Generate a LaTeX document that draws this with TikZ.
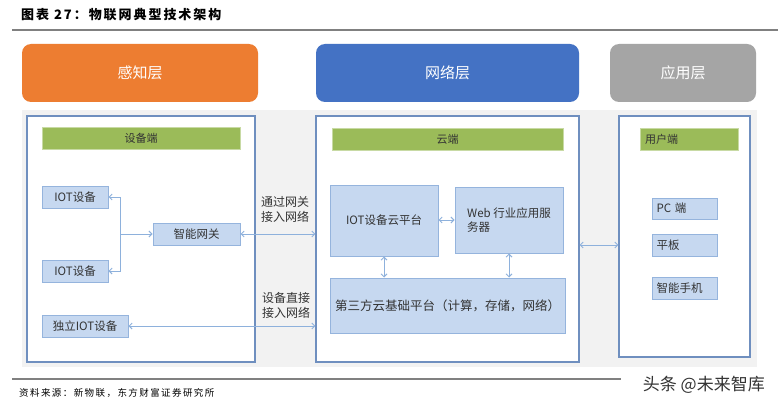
\documentclass[tikz,border=0pt]{standalone}
\usepackage{fontspec}
\setmainfont{Noto Sans CJK SC}
\newfontfamily\spacedfont{Noto Sans CJK SC}[LetterSpace=15]
\usetikzlibrary{arrows.meta,positioning,calc}
\definecolor{clSense}{HTML}{ED7D31}
\definecolor{clNet}{HTML}{4472C4}
\definecolor{clApp}{HTML}{A5A5A5}
\definecolor{clBack}{HTML}{F2F2F2}
\definecolor{clPanel}{HTML}{6F8FBF}
\definecolor{clBar}{HTML}{9BBB59}
\definecolor{clBox}{HTML}{C6D8F0}
\definecolor{clBoxLine}{HTML}{95B4DD}
\definecolor{clFlow}{HTML}{8EB1DC}
\definecolor{clText}{HTML}{333333}
\tikzset{
  layer/.style={rectangle, rounded corners=9pt, text=white, minimum height=58pt,
                inner sep=0pt, font=\fontsize{15}{18}\selectfont},
  panel/.style={rectangle, draw=clPanel, line width=1.2pt, fill=white, inner sep=0pt},
  bar/.style={rectangle, draw=clBar!55!white, line width=0.8pt, fill=clBar, text=clText,
              minimum height=22pt, inner sep=0pt, font=\fontsize{11}{13}\selectfont},
  box/.style={rectangle, draw=clBoxLine, line width=1pt, fill=clBox, text=clText,
              minimum height=22pt, inner sep=0pt, font=\fontsize{11.5}{14}\selectfont},
  flow/.style={-{Straight Barb[length=3pt,width=6pt]}, draw=clFlow, line width=0.9pt},
  twoway/.style={flow, {Straight Barb[length=3pt,width=6pt]}-{Straight Barb[length=3pt,width=6pt]}},
  flowlabel/.style={align=left, text=clText, inner sep=0pt, font=\fontsize{12}{15}\selectfont},
}
\begin{document}
\begin{tikzpicture}[x=1pt, y=-1pt]
  \useasboundingbox[fill=white] (0,0) rectangle (778,409);
  % caption and rules
  \node[anchor=west, inner sep=0pt, font=\spacedfont\bfseries\fontsize{13}{15}\selectfont] (title) at (21,15) {图表 27：物联网典型技术架构};
  \draw[line width=1.4pt, gray] (12,30) -- (778,30);
  \draw[line width=1.4pt, gray] (12,379) -- (621,379);
  \node[anchor=west, inner sep=0pt, font=\spacedfont\fontsize{9.5}{12}\selectfont] (source) at (19,393) {资料来源：新物联，东方财富证券研究所};
  \node[anchor=east, inner sep=0pt, text=black!80, font=\fontsize{17}{20}\selectfont] (mark) at (765,385) {头条 @未来智库};
  % layers
  \node[layer, fill=clSense, minimum width=236pt] (sense) at (140,73) {感知层};
  \node[layer, fill=clNet, minimum width=263pt] (net) at (447.5,73) {网络层};
  \node[layer, fill=clApp, minimum width=146pt] (app) at (683,73) {应用层};
  \fill[clBack] (22,110) rectangle (757,367);
  % panels
  \node[panel, minimum width=228pt, minimum height=246pt] (devpanel) at (141,239) {};
  \node[panel, minimum width=263pt, minimum height=246pt] (cloudpanel) at (447.5,239) {};
  \node[panel, minimum width=131pt, minimum height=241pt] (userpanel) at (684.5,236.5) {};
  \node[bar, minimum width=198pt] (devbar) at (141,138.5) {设备端};
  \node[bar, minimum width=231pt] (cloudbar) at (447.5,139) {云端};
  \node[bar, text width=88pt, inner xsep=5pt, align=left] (userbar) at (689,139) {用户端};
  % device side
  \node[box, minimum width=66pt] (iot1) at (75,197) {IOT设备};
  \node[box, minimum width=66pt] (iot2) at (75,271) {IOT设备};
  \node[box, minimum width=87pt] (gw) at (196.5,234) {智能网关};
  \node[box, minimum width=86pt] (solo) at (85,326) {独立IOT设备};
  % cloud side
  \node[box, minimum width=108pt, minimum height=71pt] (cloudpf) at (384,220.5) {IOT设备云平台};
  \node[box, minimum width=108pt, minimum height=66pt, align=left] (web) at (509,220) {Web 行业应用服\\务器};
  \node[box, minimum width=235pt, minimum height=55pt, font=\fontsize{12.5}{15}\selectfont] (base) at (447.5,305.5) {第三方云基础平台（计算，存储，网络）};
  % user side
  \node[box, text width=56pt, inner xsep=4.5pt, align=left, minimum height=21pt] (pc) at (684.5,208.5) {PC 端};
  \node[box, text width=56pt, inner xsep=4.5pt, align=left] (pad) at (684.5,245) {平板};
  \node[box, text width=56pt, inner xsep=4.5pt, align=left] (phone) at (684.5,288) {智能手机};
  % connectors
  \coordinate (split) at (120,234);
  \draw[flow] (split) -- (gw);
  \draw[flow] (split) |- (iot1);
  \draw[flow] (split) |- (iot2);
  \draw[twoway] (gw.east) -- (gw.east -| cloudpanel.west);
  \draw[twoway] (solo.east) -- (solo.east -| cloudpanel.west);
  \draw[twoway] (cloudpf.east |- web.west) -- (web.west);
  \draw[twoway] (cloudpf.south) -- (cloudpf.south |- base.north);
  \draw[twoway] (web.south) -- (web.south |- base.north);
  \draw[twoway] (pad -| cloudpanel.east) -- (pad -| userpanel.west);
  \node[flowlabel] (gwlabel) at (285,209) {通过网关\\接入网络};
  \node[flowlabel] (directlabel) at (286,305.5) {设备直接\\接入网络};
\end{tikzpicture}
\end{document}
